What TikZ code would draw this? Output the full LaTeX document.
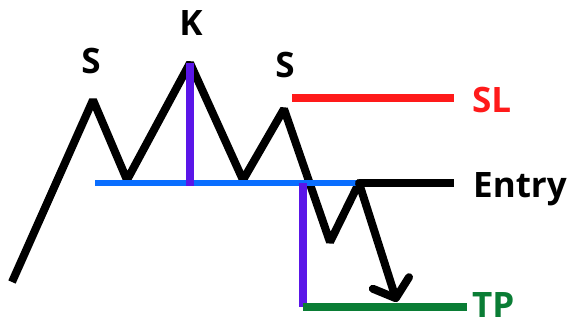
\documentclass[tikz,border=0pt]{standalone}
\usepackage{fontspec}
\setmainfont{Open Sans}
\usetikzlibrary{arrows.meta}
\definecolor{slred}{RGB}{255,26,26}
\definecolor{neckblue}{RGB}{10,110,255}
\definecolor{hpurple}{RGB}{90,22,232}
\definecolor{tpgreen}{RGB}{10,125,53}
\begin{document}
\begin{tikzpicture}[x=1pt,y=-1pt,
        price/.style={line width=8pt,line join=bevel},
        level/.style={line width=7.5pt},
        lbl/.style={inner sep=0pt,font=\fontsize{35}{38}\selectfont\bfseries}]
            \useasboundingbox (0,0) rectangle (567,324);
            % zigzag points
            \coordinate (p0) at (12,282);
            \coordinate (ls) at (93,100);
            \coordinate (t1) at (127,180);
            \coordinate (hd) at (190,63);
            \coordinate (t2) at (243,180);
            \coordinate (rs) at (284,109);
            \coordinate (lo) at (330,242);
            \coordinate (re) at (359,183);
            \coordinate (tg) at (397,302);
            % levels
            \coordinate (nkA) at (95,183);
            \coordinate (nkB) at (398,183);
            \coordinate (slA) at (292,98);
            \coordinate (slB) at (454,98);
            \coordinate (enB) at (454,183);
            \coordinate (tpA) at (303,307);
            \coordinate (tpB) at (467,307);
            \coordinate (hdB) at (190,186);
            \coordinate (bkA) at (303,183);
            \draw [price] (p0) -- (ls) -- (t1) -- (hd) -- (t2) -- (rs) -- (lo) -- (re);
            \draw [level,line width=6pt,neckblue] (nkA) -- (nkB);
            \draw [level,hpurple] (hd) -- (hdB);
            \draw [level,hpurple] (bkA) -- (tpA);
            \draw [level,slred] (slA) -- (slB);
            \draw [level,tpgreen] (tpA) -- (tpB);
            \draw [level] (re) -- (enB);
            \draw [price,line cap=round,-{Straight Barb[length=16pt,width=38pt,round]}] (re) -- (tg);
            % labels
            \node [lbl,anchor=base] (s1) at (91,73) {S};
            \node [lbl,anchor=base] (k) at (191,35) {K};
            \node [lbl,anchor=base] (s2) at (285,77) {S};
            \node [lbl,anchor=base west,slred] (sl) at (472,112) {SL};
            \node [lbl,anchor=base west] (entry) at (473,197) {Entry};
            \node [lbl,anchor=base west,tpgreen] (tp) at (472,317) {TP};
        \end{tikzpicture}
\end{document}
